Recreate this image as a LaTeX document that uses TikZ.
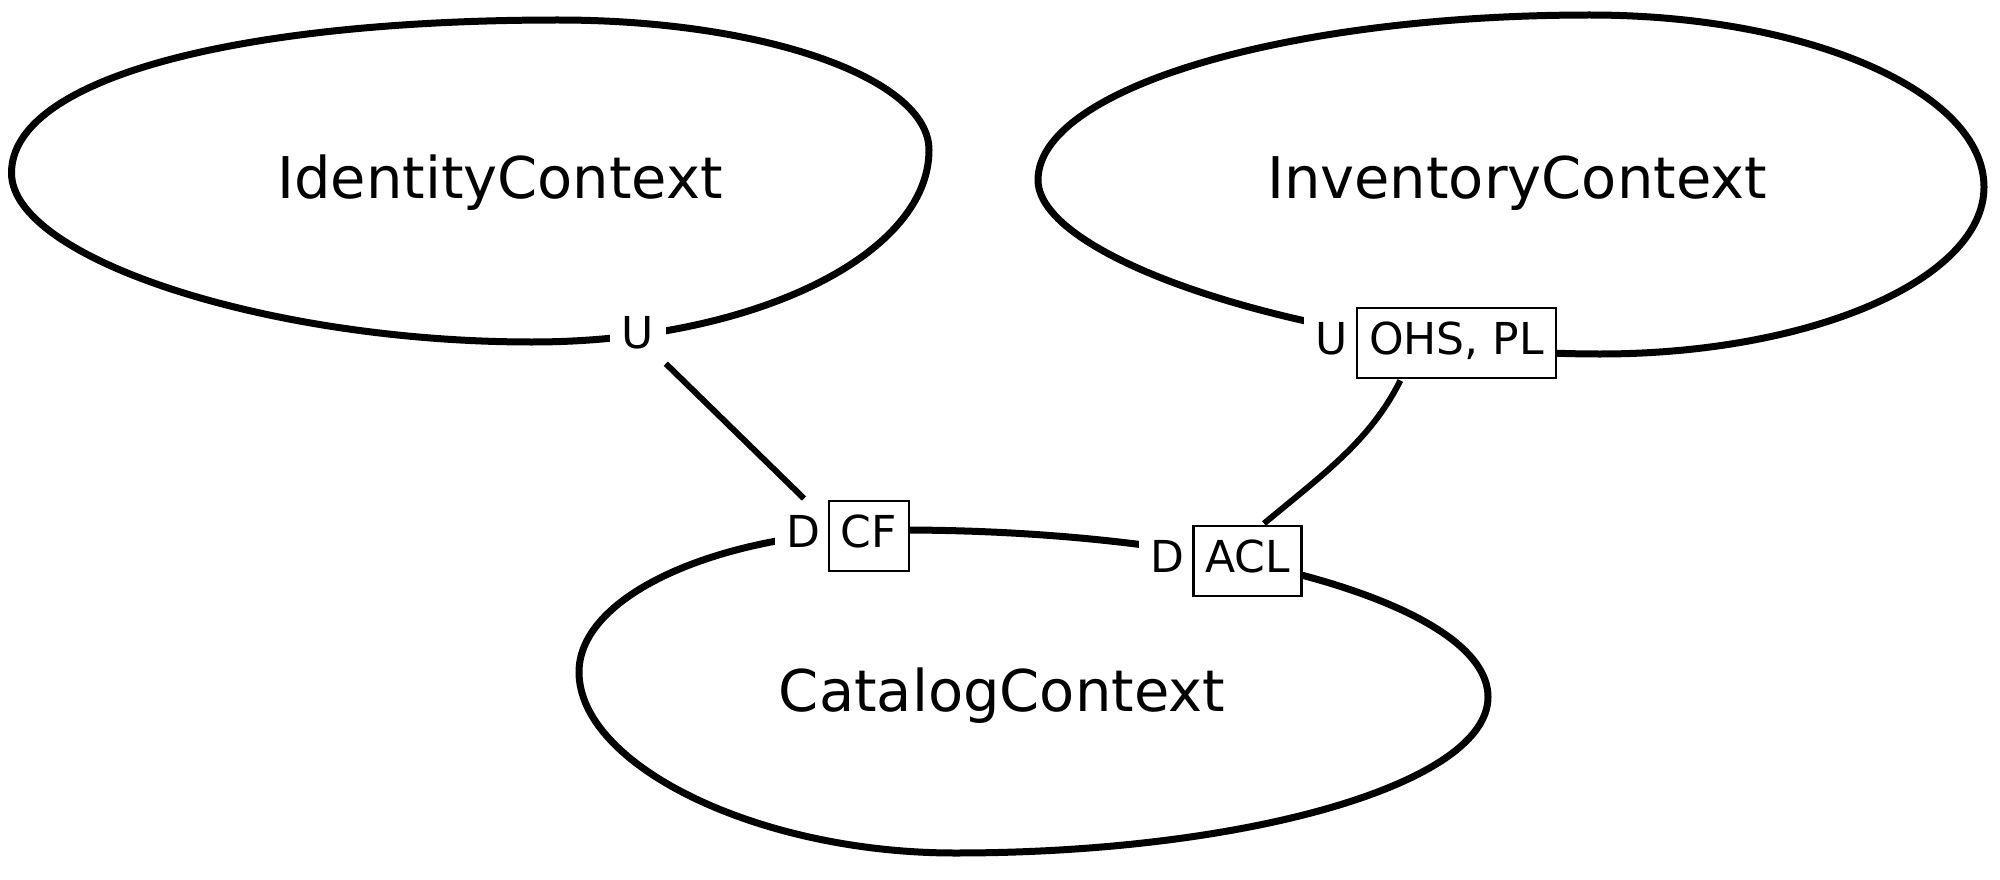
\documentclass[tikz,border=0pt]{standalone}
\usepackage{fontspec}
\setmainfont{DejaVu Sans}
\usetikzlibrary{fit}
\pgfdeclarelayer{bg}
\pgfsetlayers{bg,main}
\begin{document}
\begin{tikzpicture}[x=1pt,y=-1pt,
  blob/.style={line width=7pt, line join=round},
  ctx/.style={font=\fontsize{57.5}{60}\selectfont, anchor=base, inner sep=0pt},
  lbl/.style={font=\fontsize{44}{50}\selectfont, text height=33.4pt, text depth=10.6pt, inner xsep=11.5pt, inner ysep=12pt, fill=white},
  pat/.style={lbl, draw, line width=2.6pt, inner xsep=12pt, inner ysep=13pt},
  grp/.style={inner sep=1pt},
  link/.style={line width=6pt}]
\useasboundingbox (0,0) rectangle (2000,880);

% pattern boxes
\node[pat] (cf) at (869,536) {CF};
\node[pat] (acl) at (1247.5,561) {ACL};
\node[pat] (ohs) at (1456.5,343) {OHS, PL};

\begin{pgfonlayer}{bg}
% context outlines
\draw[blob] (929,150) .. controls (929,78) and (763,20) .. (558,20)
  .. controls (238,20) and (11.5,78) .. (11.5,173)
  .. controls (11.5,258) and (267,342) .. (532,342)
  .. controls (751,342) and (929,256) .. cycle;
\draw[blob] (1984,187) .. controls (1984,92) and (1808,15) .. (1590,15)
  .. controls (1285,15) and (1038,89) .. (1038,180)
  .. controls (1038,262) and (1330,354) .. (1600,354)
  .. controls (1812,354) and (1984,279) .. cycle;
\draw[blob] (900,530) .. controls (723,530) and (579,594) .. (579,672)
  .. controls (579,765) and (757,853) .. (955,853)
  .. controls (1249,853) and (1488,783) .. (1488,697)
  .. controls (1488,605) and (1225,530) .. cycle;
% upstream / downstream labels
\node[lbl, anchor=base] (u1) at (638,348) {U};
\node[lbl, anchor=east, xshift=4pt] (d1) at (cf.west) {D};
\node[lbl, anchor=east, xshift=4pt] (d3) at (acl.west) {D};
\node[lbl, anchor=east, xshift=4pt] (u2) at (ohs.west) {U};
\end{pgfonlayer}

% context names
\node[ctx] (idt) at (500,198) {IdentityContext};
\node[ctx] (inv) at (1517,198) {InventoryContext};
\node[ctx] (cat) at (1002,711) {CatalogContext};

% groups
\node[fit=(d1)(cf), grp] (g1) {};
\node[fit=(u2)(ohs), grp] (g2) {};
\node[fit=(d3)(acl), grp] (g3) {};

% connectors
\draw[link] (u1) -- (g1);
\draw[link] (g2.231) .. controls +(-30,60) and +(60,-50) .. (g3.41);
\end{tikzpicture}
\end{document}
